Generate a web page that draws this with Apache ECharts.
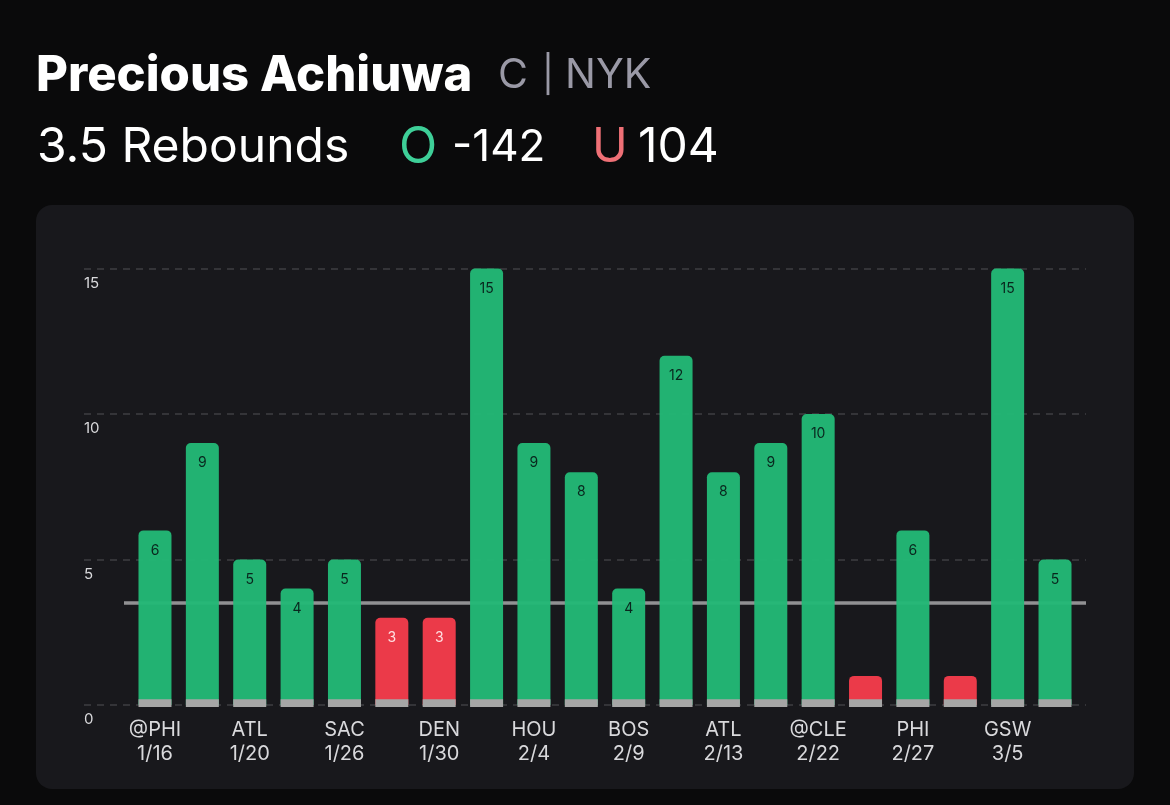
<!DOCTYPE html>
<html>
<head>
<meta charset="utf-8">
<style>
  html, body { margin: 0; padding: 0; background: #0a0a0b; }
  #main { width: 1170px; height: 805px; }
</style>
</head>
<body>
<div id="main"></div>
<script src="https://cdn.jsdelivr.net/npm/echarts@6/dist/echarts.min.js"></script>
<script>
const categories = ['@PHI\n1/16', '', 'ATL\n1/20', '', 'SAC\n1/26', '', 'DEN\n1/30', '', 'HOU\n2/4', '', 'BOS\n2/9', '', 'ATL\n2/13', '', '@CLE\n2/22', '', 'PHI\n2/27', '', 'GSW\n3/5', '']
const rebounds = [6, 9, 5, 4, 5, 3, 3, 15, 9, 8, 4, 12, 8, 9, 10, 1, 6, 1, 15, 5]
const yTicks = [0, 5, 10, 15]
const line = 3.5
const stubTop = categories.map(() => 0.2)
const stubBottom = categories.map(() => -0.07)

const GREEN = '#22b876'
const RED = '#f43b4b'
const FONT = 'Inter'

const chart = echarts.init(document.getElementById('main'))

const headText = (x, y, text, size, color, weight) => ({
  type: 'text',
  x: x,
  y: y,
  style: { text: text, fontFamily: FONT, fontSize: size, fontWeight: weight || 400, fill: color, textVerticalAlign: 'middle' }
})

chart.setOption({
  backgroundColor: '#0a0a0b',
  animation: false,
  graphic: [
    { type: 'rect', z: -10, shape: { x: 36, y: 205, width: 1098, height: 584, r: 16 }, style: { fill: '#18181c' } },
    headText(36, 76, 'Precious Achiuwa', 49, '#ffffff', 800),
    headText(498, 76, 'C', 41, '#9a99a6'),
    headText(542, 76, '|', 36, '#9a99a6'),
    headText(565, 76, 'NYK', 41, '#9a99a6'),
    headText(37, 148, '3.5 Rebounds', 48, '#ffffff'),
    headText(399, 148, 'O', 50, '#3ecf98'),
    headText(452, 148, '-142', 44, '#ffffff'),
    headText(592, 148, 'U', 48, '#ef7076'),
    headText(638, 148, '104', 48, '#ffffff')
  ],
  grid: [
    { left: 84, right: 84, top: 268.5, bottom: 100 },
    { left: 131.3, right: 91.3, top: 268.5, bottom: 100 }
  ],
  xAxis: [
    { gridIndex: 0, type: 'category', data: categories, show: false },
    {
      gridIndex: 1,
      type: 'category',
      data: categories,
      axisLine: { show: false },
      axisTick: { show: false },
      axisLabel: { interval: 0, margin: 13, fontFamily: FONT, fontSize: 20, lineHeight: 24, color: '#d9d9dc' }
    }
  ],
  yAxis: [
    {
      gridIndex: 0,
      type: 'value',
      min: 0,
      max: 15,
      interval: 5,
      axisLine: { show: false },
      axisTick: { show: false },
      splitLine: { show: true, lineStyle: { color: '#3e3e42', width: 1.5, type: [7, 6] } },
      axisLabel: {
        inside: true,
        margin: 0,
        align: 'left',
        verticalAlign: 'top',
        padding: [7, 0, 0, 0],
        fontFamily: FONT,
        fontSize: 15,
        color: '#d9d9dc',
        formatter: v => (yTicks.includes(v) ? String(v) : '')
      }
    },
    { gridIndex: 1, type: 'value', min: 0, max: 15, interval: 5, show: false, splitLine: { show: false } }
  ],
  series: [
    {
      type: 'line',
      xAxisIndex: 0,
      yAxisIndex: 0,
      data: [],
      z: 1,
      markLine: {
        silent: true,
        z: 1,
        symbol: 'none',
        label: { show: false },
        lineStyle: { color: '#919193', width: 3.5, type: 'solid' },
        data: [[{ x: 124, yAxis: line }, { x: 1086, yAxis: line }]]
      }
    },
    {
      type: 'bar',
      xAxisIndex: 1,
      yAxisIndex: 1,
      barWidth: 33,
      barGap: '-100%',
      z: 3,
      data: rebounds.map(v => ({
        value: v,
        itemStyle: { color: v > line ? GREEN : RED, borderRadius: [5, 5, 0, 0], opacity: 0.96 },
        label: {
          show: v > 1,
          position: 'insideTop',
          distance: 13,
          fontFamily: FONT,
          fontSize: 14,
          color: v > line ? '#08201a' : '#ffe6e8'
        }
      }))
    },
    {
      type: 'bar',
      xAxisIndex: 1,
      yAxisIndex: 1,
      stack: 'stub',
      clip: false,
      barWidth: 33,
      z: 4,
      itemStyle: { color: '#a6a6a6' },
      data: stubTop
    },
    {
      type: 'bar',
      xAxisIndex: 1,
      yAxisIndex: 1,
      stack: 'stub',
      clip: false,
      barWidth: 33,
      z: 4,
      itemStyle: { color: '#a6a6a6' },
      data: stubBottom
    }
  ]
})
</script>
</body>
</html>
